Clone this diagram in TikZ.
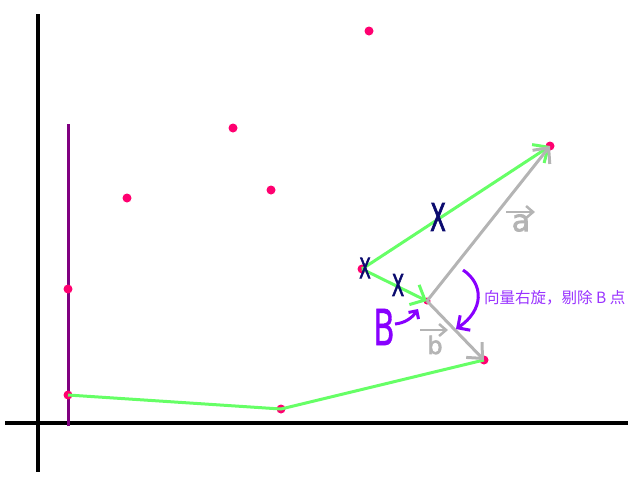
\documentclass[tikz,border=0pt]{standalone}
\usepackage{fontspec}
\newfontfamily\cjk{Noto Sans CJK SC}
\newfontfamily\hand{DejaVu Sans}
\newfontfamily\handbold[FakeBold=2.5]{DejaVu Sans}
\newfontfamily\handmid[FakeBold=1]{DejaVu Sans}
\usetikzlibrary{arrows.meta}
\definecolor{axisblack}{HTML}{000000}
\definecolor{purpaxis}{HTML}{800080}
\definecolor{ptred}{HTML}{FF0070}
\definecolor{grn}{HTML}{66FF66}
\definecolor{gry}{HTML}{B4B4B4}
\definecolor{navy}{HTML}{0A0A6E}
\definecolor{violet}{HTML}{8800FF}
\definecolor{violettxt}{HTML}{9933FF}
\tikzset{
  pt/.style={circle,fill=ptred,inner sep=0pt,minimum size=9pt},
  axisline/.style={line width=4pt,axisblack},
  hull/.style={line width=3pt,grn},
  hullarrow/.style={line width=3pt,grn,-{Straight Barb[length=12pt,width=22pt,line width=3pt]}},
  vecarrow/.style={line width=3pt,gry,-{Straight Barb[length=12pt,width=22pt,line width=3pt]}},
  xmark/.style={navy,inner sep=0pt},
  veclabel/.style={gry,inner sep=0pt},
  rotarrow/.style={line width=3pt,violet,-{Straight Barb[length=9pt,width=18pt,line width=3pt]}}
}
\begin{document}
\begin{tikzpicture}[x=1pt,y=-1pt]
\useasboundingbox (0,0) rectangle (640,480);
% axes
\coordinate (yt) at (38,14);
\coordinate (yb) at (38,472);
\coordinate (xl) at (5,423);
\coordinate (xr) at (628,423);
\draw[axisline] (yt) -- (yb);
\draw[axisline] (xl) -- (xr);
% purple vertical line
\coordinate (vt) at (68,124);
\coordinate (vb) at (68,426);
\draw[line width=3pt,purpaxis] (vt) -- (vb);
% points
\node[pt] (p1) at (369,31) {};
\node[pt] (p2) at (233,128) {};
\node[pt] (p3) at (127,198) {};
\node[pt] (p4) at (271,190) {};
\node[pt] (p5) at (68,289) {};
\node[pt] (p6) at (68,395) {};
\node[pt] (p7) at (281,409) {};
\node[pt] (p8) at (484,360) {};
\node[pt,minimum size=7pt] (pB) at (427,301) {};
\node[pt] (p10) at (362,269) {};
\node[pt] (p11) at (550,146) {};
% green hull
\draw[hull] (p6.center) -- (p7.center) -- (p8.center);
\draw[hullarrow] (p10.center) -- (p11.center);
\draw[hullarrow] (p10.center) -- (pB.center);
% gray vectors
\draw[vecarrow] (pB.center) -- (p11.center);
\draw[vecarrow] (pB.center) -- (p8.center);
% X marks
\node[xmark,font=\handbold\fontsize{38}{38}\selectfont] (x1) at (438,217) {\scalebox{0.6}[1]{X}};
\node[xmark,font=\handbold\fontsize{30}{30}\selectfont] (x2) at (398,285) {\scalebox{0.6}[1]{X}};
\node[xmark,font=\handbold\fontsize{28}{28}\selectfont] (x3) at (365,268) {\scalebox{0.6}[1]{X}};
% vector labels
\node[veclabel,font=\handbold\fontsize{30}{30}\selectfont] (la) at (521,223) {a};
\coordinate (la1) at (506,212);
\coordinate (la2) at (535,212);
\draw[gry,line width=2.5pt,-{Straight Barb[length=7pt,width=12pt,line width=2.5pt]}] (la1) -- (la2);
\node[veclabel,font=\handbold\fontsize{24}{24}\selectfont] (lb) at (435,345) {b};
\coordinate (lb1) at (420,330);
\coordinate (lb2) at (448,330);
\draw[gry,line width=2.5pt,-{Straight Barb[length=7pt,width=12pt,line width=2.5pt]}] (lb1) -- (lb2);
% B label
\node[violet,inner sep=0pt,font=\handmid\fontsize{50}{50}\selectfont] (Blab) at (384,327) {\scalebox{0.62}[1]{B}};
\coordinate (bs) at (395,324);
\coordinate (be) at (418,309);
\draw[line width=3pt,violet,-{Straight Barb[length=6pt,width=12pt,line width=3pt]}] (bs) .. controls (405,323) and (412,318) .. (be);
% rotation arrow
\coordinate (rs) at (463,270);
\coordinate (re) at (456,329);
\draw[rotarrow] (rs) .. controls (484,284) and (484,310) .. (re);
% text
\node[violettxt,anchor=west,inner sep=0pt,font=\cjk\fontsize{15.5}{15.5}\selectfont] (txt) at (484,298) {向量右旋，剔除 B 点};
\end{tikzpicture}
\end{document}
